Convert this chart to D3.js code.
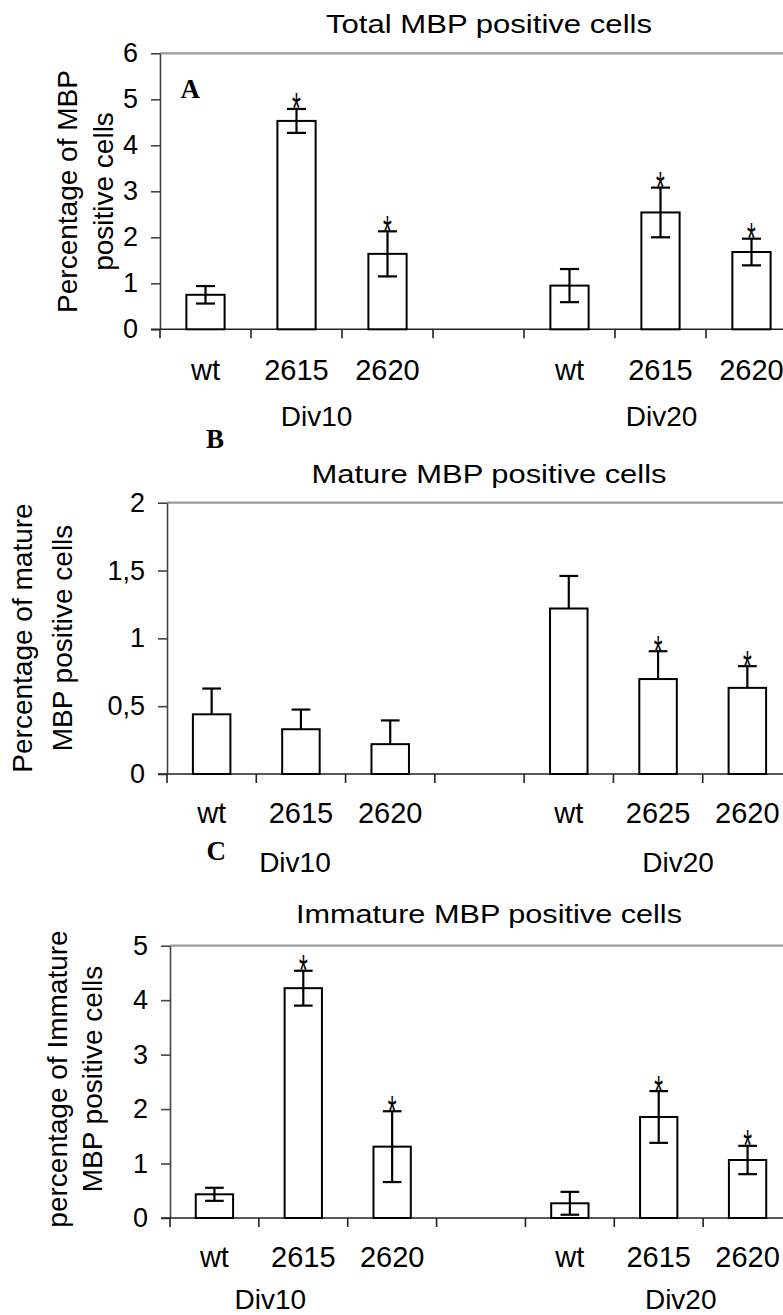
<!DOCTYPE html>
<html>
<head>
<meta charset="utf-8">
<script src="https://cdn.jsdelivr.net/npm/d3@7/dist/d3.min.js"></script>
<style>
  html, body { margin: 0; padding: 0; background: #fff; }
  svg { display: block; }
  text { font-family: "Liberation Sans", Arial, sans-serif; fill: #000; }
</style>
</head>
<body>
<div id="chart"></div>
<script>
// ---------- data ----------
const slotKeys = ["d10_wt", "d10_2615", "d10_2620", "gap", "d20_wt", "d20_2615", "d20_2620"];
const groupNames = ["Div10", "Div20"];

const labelsA = ["wt", "2615", "2620", "", "wt", "2615", "2620"];
const valuesA = [0.75, 4.53, 1.64, null, 0.95, 2.54, 1.68];
const errorsA = [0.19, 0.26, 0.49, null, 0.36, 0.54, 0.29];
const signifA = [false, true, true, false, false, true, true];
const ticksA  = [0, 1, 2, 3, 4, 5, 6];

const labelsB = ["wt", "2615", "2620", "", "wt", "2625", "2620"];
const valuesB = [0.44, 0.33, 0.22, null, 1.22, 0.70, 0.635];
const errorsB = [0.19, 0.145, 0.175, null, 0.24, 0.205, 0.16];
const signifB = [false, false, false, false, false, true, true];
const ticksB  = [0, 0.5, 1, 1.5, 2];

const labelsC = ["wt", "2615", "2620", "", "wt", "2615", "2620"];
const valuesC = [0.435, 4.22, 1.31, null, 0.27, 1.855, 1.065];
const errorsC = [0.12, 0.32, 0.65, null, 0.21, 0.475, 0.26];
const signifC = [false, true, true, false, false, true, true];
const ticksC  = [0, 1, 2, 3, 4, 5];

const titles = ["Total MBP positive cells", "Mature MBP positive cells", "Immature MBP positive cells"];
const yLabels = [
  ["Percentage of MBP", "positive cells"],
  ["Percentage of mature", "MBP positive cells"],
  ["percentage of Immature", "MBP positive cells"]
];
const letters = ["A", "B", "C"];

// ---------- layout (styles / positions) ----------
const W = 783, H = 1315;
const layouts = [
  { x0: 160, x1: 797, yTop: 53.3, yZero: 329.3, titleY: 32.5, titleLen: 326,
    xlabY: 380, grpY: 426, grpDx: [20, 1], bothErr: true,
    yl: [77.4, 113.4], ylCy: 191.5, letter: [180.5, 98.3] },
  { x0: 167, x1: 792, yTop: 502.7, yZero: 774, titleY: 483.3, titleLen: 355,
    xlabY: 823, grpY: 872, grpDx: [-6, 20], bothErr: false,
    yl: [31.6, 71.8], ylCy: 638, letter: [206, 448.3] },
  { x0: 170, x1: 792, yTop: 945.7, yZero: 1218, titleY: 923.3, titleLen: 386,
    xlabY: 1267, grpY: 1309, grpDx: [-33, 22], bothErr: true,
    yl: [66.6, 101.6], ylCy: 1079, letter: [206.5, 860] }
];

const panels = [
  { labels: labelsA, values: valuesA, errors: errorsA, signif: signifA, ticks: ticksA, max: 6 },
  { labels: labelsB, values: valuesB, errors: errorsB, signif: signifB, ticks: ticksB, max: 2 },
  { labels: labelsC, values: valuesC, errors: errorsC, signif: signifC, ticks: ticksC, max: 5 }
];

const svg = d3.select("#chart").append("svg").attr("width", W).attr("height", H);

panels.forEach((p, pi) => {
  const L = layouts[pi];
  const g = svg.append("g");

  const x = d3.scaleBand().domain(slotKeys).range([L.x0, L.x1]).padding(0);
  const y = d3.scaleLinear().domain([0, p.max]).range([L.yZero, L.yTop]);
  const bw = x.bandwidth() * 0.42;
  const capW = bw * 0.5;

  // top border line (gray)
  g.append("line")
    .attr("x1", L.x0).attr("x2", L.x1)
    .attr("y1", y(p.max)).attr("y2", y(p.max))
    .attr("stroke", "#9a9a9a").attr("stroke-width", 2.2);

  // y axis
  const fmt = v => String(v).replace(".", ",");
  const yAxis = d3.axisLeft(y).tickValues(p.ticks).tickSize(9).tickSizeOuter(0)
    .tickPadding(13).tickFormat(fmt);
  const ya = g.append("g").attr("transform", `translate(${L.x0},0)`).call(yAxis);
  ya.select(".domain").attr("stroke", "#444").attr("stroke-width", 1.6);
  ya.selectAll(".tick line").attr("stroke", "#444").attr("stroke-width", 1.6);
  ya.selectAll(".tick text")
    .style("font-family", '"Liberation Sans", Arial, sans-serif')
    .style("font-size", "27px").attr("fill", "#000");

  // x axis line
  g.append("line")
    .attr("x1", L.x0 - 9).attr("x2", L.x1)
    .attr("y1", y(0)).attr("y2", y(0))
    .attr("stroke", "#222").attr("stroke-width", 1.6);

  // x tick marks at slot boundaries
  g.selectAll(".xtick").data(slotKeys).enter().append("line")
    .attr("x1", d => x(d)).attr("x2", d => x(d))
    .attr("y1", y(0)).attr("y2", y(0) + 9)
    .attr("stroke", "#222").attr("stroke-width", 1.6);

  const rows = slotKeys.map((k, i) => ({
    key: k, label: p.labels[i], value: p.values[i], err: p.errors[i], sig: p.signif[i]
  }));
  const bars = rows.filter(r => r.value !== null);

  // bars
  g.selectAll(".bar").data(bars).enter().append("rect")
    .attr("x", d => x(d.key) + x.bandwidth() / 2 - bw / 2)
    .attr("y", d => y(d.value))
    .attr("width", bw)
    .attr("height", d => y(0) - y(d.value))
    .attr("fill", "#fff").attr("stroke", "#000").attr("stroke-width", 2);

  // error bars
  const cx = d => x(d.key) + x.bandwidth() / 2;
  g.selectAll(".err").data(bars).enter().append("line")
    .attr("x1", cx).attr("x2", cx)
    .attr("y1", d => L.bothErr ? y(d.value - d.err) : y(d.value))
    .attr("y2", d => y(d.value + d.err))
    .attr("stroke", "#000").attr("stroke-width", 2.2);
  g.selectAll(".capT").data(bars).enter().append("line")
    .attr("x1", d => cx(d) - capW / 2).attr("x2", d => cx(d) + capW / 2)
    .attr("y1", d => y(d.value + d.err)).attr("y2", d => y(d.value + d.err))
    .attr("stroke", "#000").attr("stroke-width", 2.2);
  if (L.bothErr) {
    g.selectAll(".capB").data(bars).enter().append("line")
      .attr("x1", d => cx(d) - capW / 2).attr("x2", d => cx(d) + capW / 2)
      .attr("y1", d => y(d.value - d.err)).attr("y2", d => y(d.value - d.err))
      .attr("stroke", "#000").attr("stroke-width", 2.2);
  }

  // asterisks
  g.selectAll(".star").data(bars.filter(d => d.sig)).enter().append("g")
    .attr("transform", d => `translate(${cx(d)},${y(d.value + d.err) - 4}) scale(0.75,1.5)`)
    .append("text")
    .attr("text-anchor", "middle")
    .attr("y", 13)
    .style("font-size", "30px")
    .text("*");

  // category labels
  g.selectAll(".xlab").data(rows.filter(r => r.label)).enter().append("text")
    .attr("x", d => cx(d)).attr("y", L.xlabY)
    .attr("text-anchor", "middle")
    .style("font-size", "29px")
    .text(d => d.label);

  // group labels (placed relative to the middle slot of each group)
  const groupCenters = [slotKeys[1], slotKeys[5]];
  groupNames.forEach((gn, gi) => {
    g.append("text")
      .attr("x", x(groupCenters[gi]) + x.bandwidth() / 2 + L.grpDx[gi])
      .attr("y", L.grpY)
      .attr("text-anchor", "middle")
      .style("font-size", "28px")
      .text(gn);
  });

  // title
  g.append("text")
    .attr("x", 489).attr("y", L.titleY)
    .attr("text-anchor", "middle")
    .attr("textLength", L.titleLen).attr("lengthAdjust", "spacingAndGlyphs")
    .style("font-size", "25px")
    .text(titles[pi]);

  // y-axis label (two lines, rotated)
  yLabels[pi].forEach((t, li) => {
    g.append("text")
      .attr("transform", `translate(${L.yl[li]},${L.ylCy}) rotate(-90)`)
      .attr("text-anchor", "middle")
      .style("font-size", "28px")
      .text(t);
  });

  // panel letter
  g.append("text")
    .attr("x", L.letter[0]).attr("y", L.letter[1])
    .style("font-family", '"Liberation Serif", "Times New Roman", serif')
    .style("font-weight", "bold")
    .style("font-size", "27px")
    .text(letters[pi]);
});
</script>
</body>
</html>
